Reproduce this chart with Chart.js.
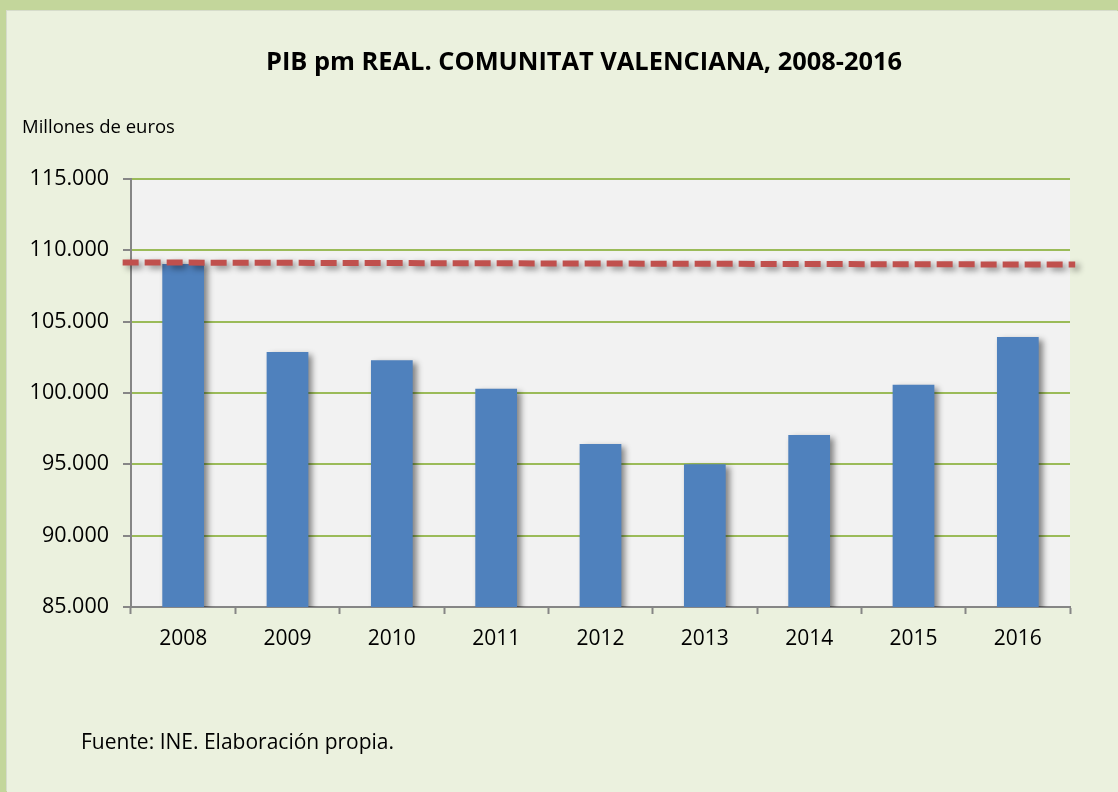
<!DOCTYPE html>
<html>
<head>
<meta charset="utf-8">
<script src="https://cdn.jsdelivr.net/npm/chart.js@4.4.1/dist/chart.umd.min.js"></script>
<style>
  html, body { margin: 0; padding: 0; }
  body { width: 1118px; height: 792px; background: #C3D69B; position: relative; overflow: hidden; font-family: "Open Sans", sans-serif; }
  #panel { position: absolute; left: 7px; top: 11px; width: 1111px; height: 781px; background: #EBF1DE; box-shadow: -1px -1px 0 #d6dccb; }
  #chart-box { position: absolute; left: 0; top: 0; width: 1111px; height: 781px; }
  .note { position: absolute; color: #000; white-space: nowrap; line-height: 1; }
  #title { left: 0; width: 1154px; top: 37px; text-align: center; font-size: 25.4px; font-weight: bold; }
  #unit { left: 15px; top: 106px; font-size: 18.5px; }
  #source { left: 74px; top: 720px; font-size: 21px; }
</style>
</head>
<body>
<div id="panel">
  <div id="chart-box"><canvas id="pib-chart" width="1111" height="781"></canvas></div>
  <div class="note" id="title">PIB pm REAL. COMUNITAT VALENCIANA, 2008-2016</div>
  <div class="note" id="unit">Millones de euros</div>
  <div class="note" id="source">Fuente: INE. Elaboración propia.</div>
</div>
<script>
// Datos
const anios = ['2008', '2009', '2010', '2011', '2012', '2013', '2014', '2015', '2016'];
const pibReal = [109050, 102870, 102290, 100300, 96420, 95010, 97050, 100580, 103920];
// Línea de referencia (nivel 2008), de extremo a extremo
const refX = [2007.42, 2016.55];
const refY = [109150, 109000];
const yMin = 85000, yMax = 115000, yStep = 5000;

const formatMiles = v => v.toString().replace(/\B(?=(\d{3})+(?!\d))/g, '.');

// Fondo gris del área de trazado
const plotBg = {
  id: 'plotBg',
  beforeDraw(chart) {
    const { ctx, chartArea: a } = chart;
    ctx.save();
    ctx.fillStyle = '#F2F2F2';
    ctx.fillRect(a.left, a.top, a.right - a.left, a.bottom - a.top);
    ctx.restore();
  }
};

// Sombra suave bajo barras y línea
const sombra = {
  id: 'sombra',
  beforeDatasetsDraw(chart) {
    const ctx = chart.ctx;
    ctx.save();
    ctx.shadowColor = 'rgba(0,0,0,0.45)';
    ctx.shadowBlur = 6;
    ctx.shadowOffsetX = 4;
    ctx.shadowOffsetY = 3;
  },
  afterDatasetsDraw(chart) {
    chart.ctx.restore();
  }
};

new Chart(document.getElementById('pib-chart'), {
  type: 'bar',
  data: {
    labels: anios,
    datasets: [
      {
        type: 'bar',
        data: pibReal,
        backgroundColor: '#4F81BD',
        borderWidth: 0,
        grouped: false,
        barPercentage: 0.4,
        categoryPercentage: 1,
        xAxisID: 'x',
        order: 2
      },
      {
        type: 'line',
        data: refX.map((x, i) => ({ x: x, y: refY[i] })),
        borderColor: '#C0504D',
        borderWidth: 6,
        borderDash: [16, 6],
        pointRadius: 0,
        fill: false,
        clip: false,
        xAxisID: 'x2',
        order: 1
      }
    ]
  },
  options: {
    responsive: false,
    animation: false,
    layout: { padding: { left: 0, right: 48, top: 168, bottom: 0 } },
    plugins: {
      legend: { display: false },
      tooltip: { enabled: false },
      title: { display: false }
    },
    scales: {
      x: {
        type: 'category',
        offset: true,
        grid: {
          offset: true,
          drawOnChartArea: false,
          drawTicks: true,
          tickLength: 7,
          tickColor: '#868686',
          tickWidth: 2
        },
        border: { color: '#868686', width: 2 },
        ticks: { color: '#000', font: { family: 'Open Sans', size: 21 }, padding: 12 },
        afterFit(scale) { scale.height = 185; }
      },
      x2: {
        type: 'linear',
        display: false,
        offset: false,
        min: 2007.5,
        max: 2016.5
      },
      y: {
        min: yMin,
        max: yMax,
        ticks: {
          stepSize: yStep,
          color: '#000',
          font: { family: 'Open Sans', size: 21.5 },
          padding: 14,
          callback: v => formatMiles(v)
        },
        grid: {
          color: '#9BBB59',
          lineWidth: 2,
          tickColor: '#868686',
          tickLength: 8,
          tickWidth: 2
        },
        border: { color: '#868686', width: 2 },
        afterFit(scale) { scale.width = 124; }
      }
    }
  },
  plugins: [plotBg, sombra]
});
</script>
</body>
</html>
